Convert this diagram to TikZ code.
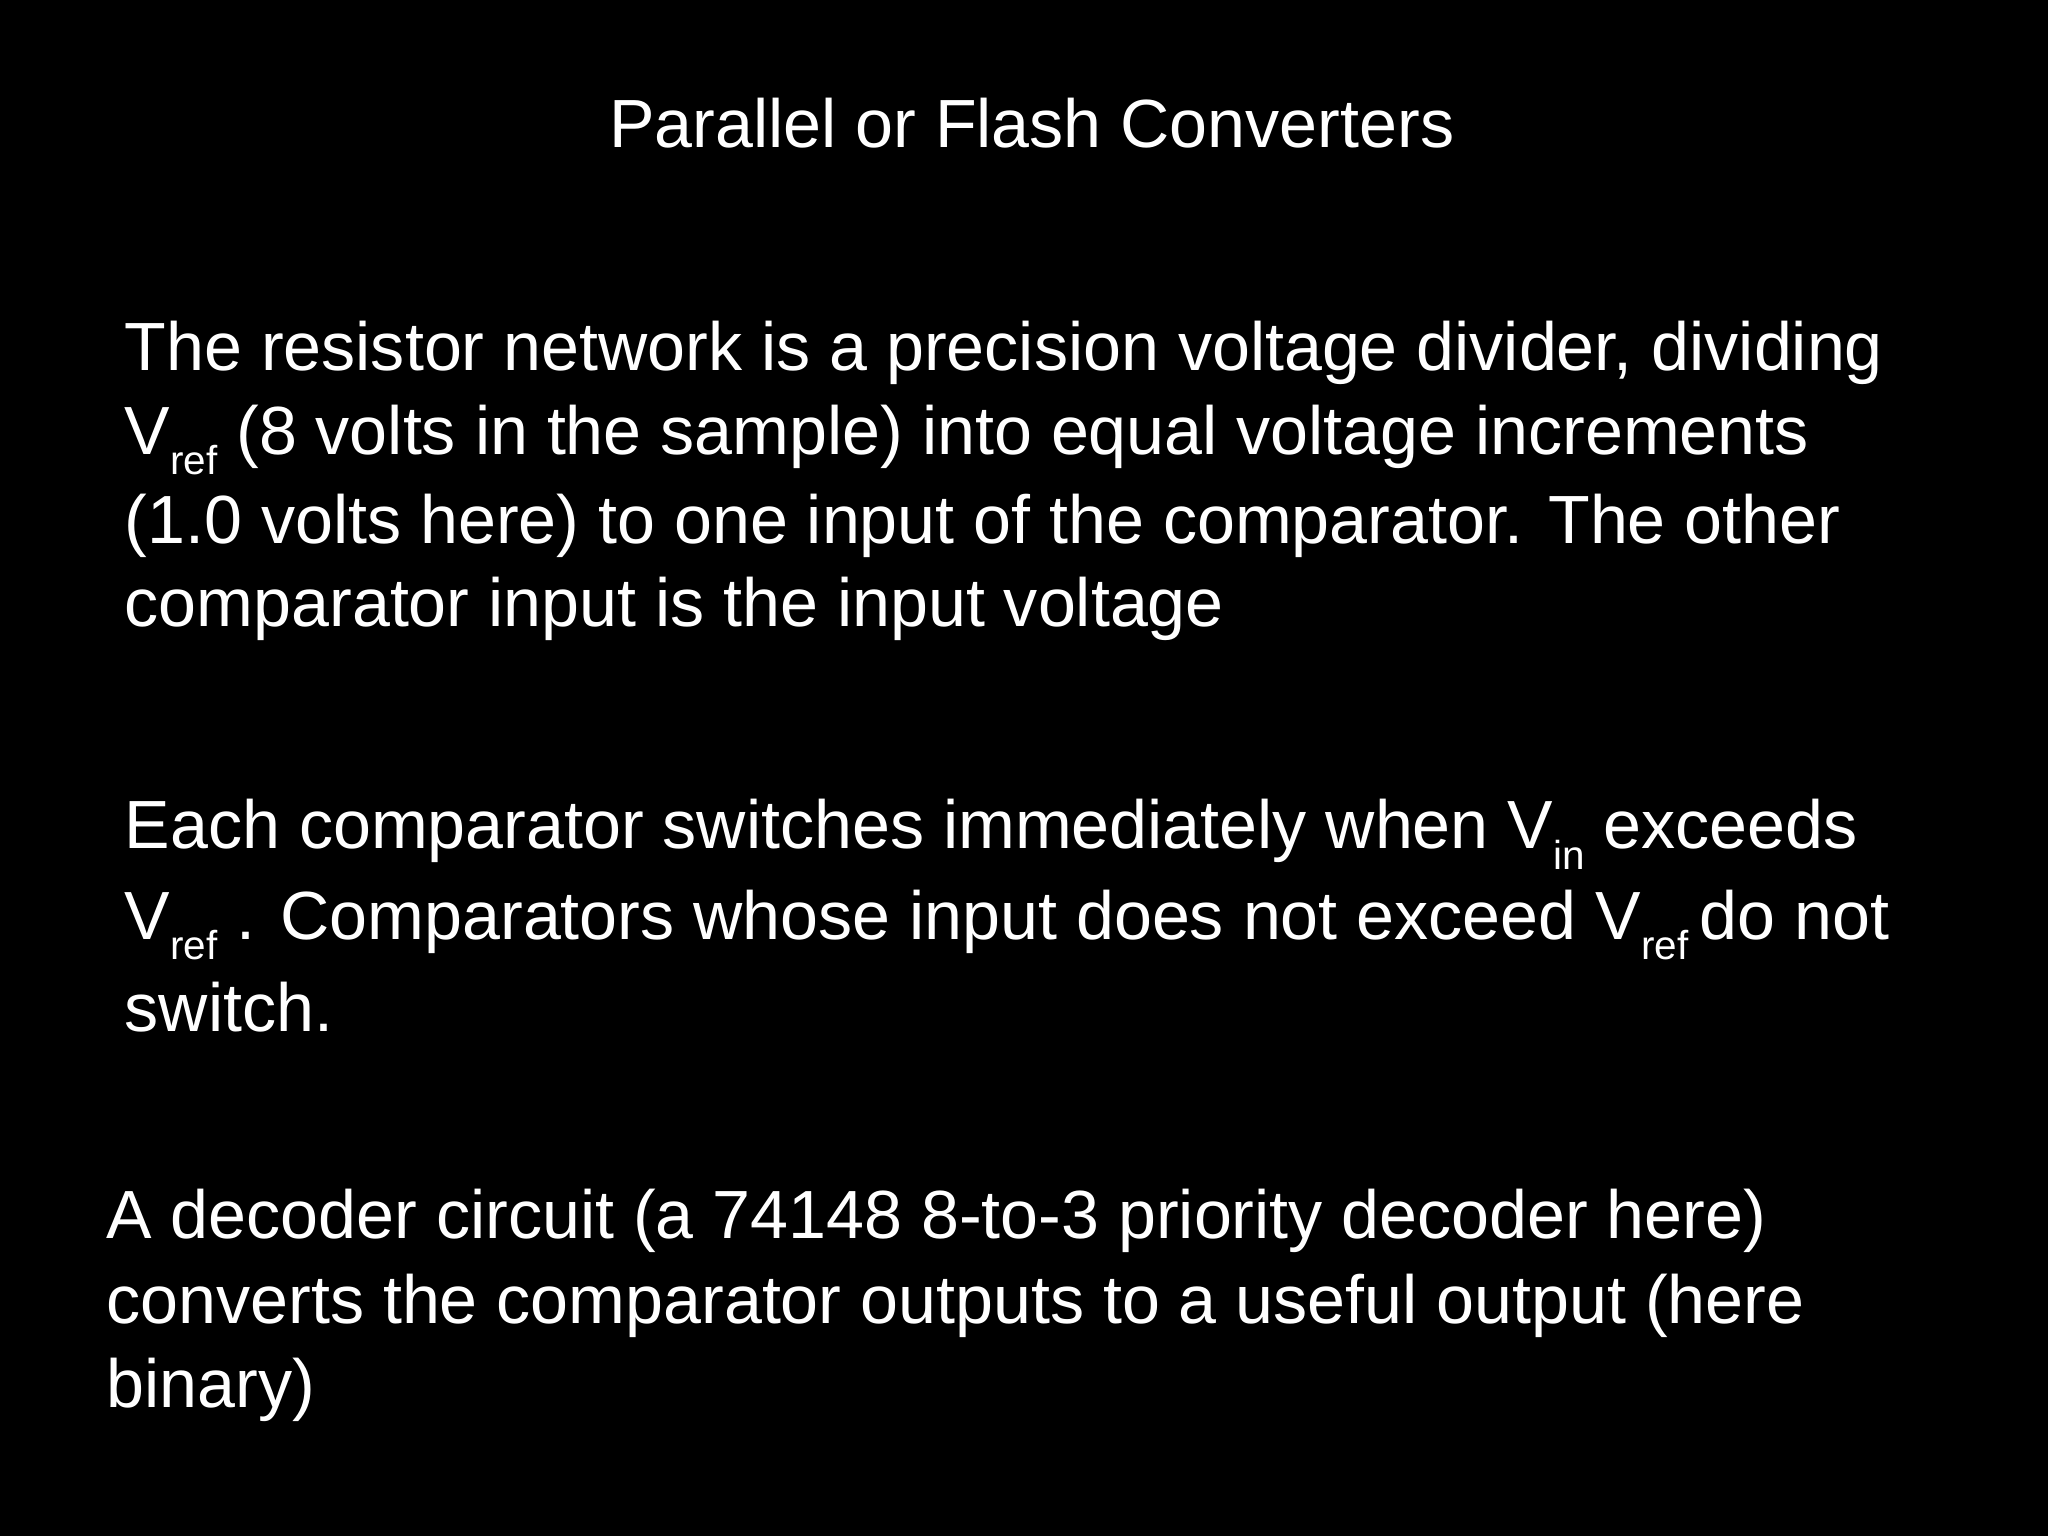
\documentclass[tikz,border=0pt]{standalone}
\usepackage{fontspec}
\setmainfont{Liberation Sans}
\newcommand{\mysub}[1]{\raisebox{-0.3em}{\fontsize{11.5pt}{13pt}\selectfont #1}}
\begin{document}
\begin{tikzpicture}[x=0.01306cm,y=-0.01306cm,
  body/.style={anchor=base west,inner sep=0pt,text=white,font=\fontsize{19.4pt}{23pt}\selectfont}]
\fill[black] (0,0) rectangle (1568,1176);
\node[anchor=base,inner sep=0pt,text=white,font=\fontsize{19.4pt}{23pt}\selectfont] (title) at (790,113) {Parallel or Flash Converters};
\node[body] (a1) at (95,284) {The resistor network is a precision voltage divider, dividing};
\node[body] (a2) at (95,348) {V\mysub{ref} (8 volts in the sample) into equal voltage increments};
\node[body] (a3) at (95,416) {(1.0 volts here) to one input of the comparator. The other};
\node[body] (a4) at (95,480) {comparator input is the input voltage};
\node[body] (b1) at (95,650) {Each comparator switches immediately when V\mysub{in} exceeds};
\node[body] (b2) at (95,719) {V\mysub{ref} . Comparators whose input does not exceed V\mysub{ref}\,do not};
\node[body] (b3) at (95,790) {switch.};
\node[body] (c1) at (81,948) {A decoder circuit (a 74148 8-to-3 priority decoder here)};
\node[body] (c2) at (81,1013) {converts the comparator outputs to a useful output (here};
\node[body] (c3) at (81,1078) {binary)};
\end{tikzpicture}
\end{document}
